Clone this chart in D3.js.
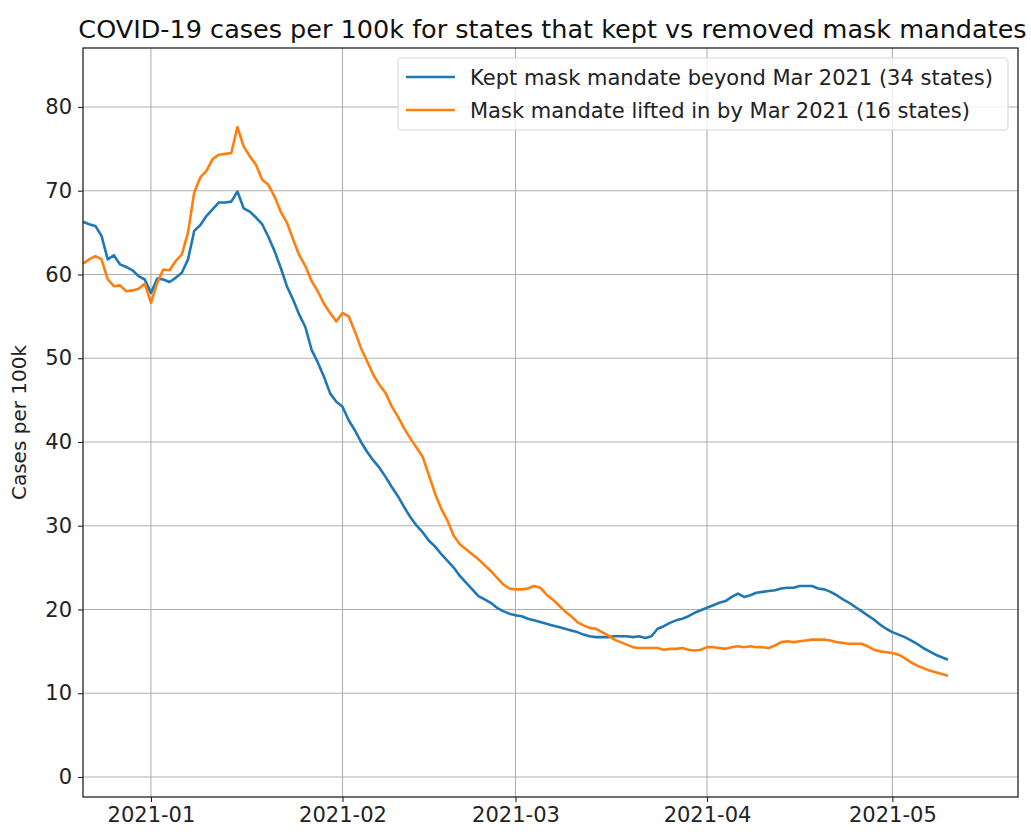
<!DOCTYPE html>
<html><head><meta charset="utf-8">
<script src="https://cdn.jsdelivr.net/npm/d3@7/dist/d3.min.js"></script>
<style>body{margin:0;background:#fff}svg{display:block}text{font-family:"DejaVu Sans",sans-serif}</style>
</head><body><svg id="c" width="1031" height="832"></svg>
<script>
const startDate = "2020-12-21";
const keptMandate = [66.3,66.0,65.8,64.6,61.8,62.3,61.2,60.9,60.5,59.8,59.4,
57.8,59.5,59.4,59.1,59.6,60.2,61.8,65.2,65.9,67.0,67.8,68.6,68.6,68.7,69.9,67.9,67.5,66.8,66.0,64.5,62.8,60.8,58.6,57.0,55.2,53.7,51.0,49.5,47.8,45.8,44.8,
44.2,42.6,41.4,40.0,38.8,37.8,36.9,35.8,34.6,33.5,32.2,31.0,30.0,29.2,28.2,27.5,26.6,25.8,25.0,24.0,23.2,22.4,21.6,21.2,20.8,20.2,19.8,19.5,
19.3,19.2,18.9,18.7,18.5,18.3,18.1,17.9,17.7,17.5,17.3,17.0,16.8,16.7,16.7,16.7,16.8,16.8,16.8,16.7,16.8,16.6,16.8,17.7,18.0,18.4,18.7,18.9,19.2,19.6,19.9,
20.2,20.5,20.8,21.0,21.5,21.9,21.5,21.7,22.0,22.1,22.2,22.3,22.5,22.6,22.6,22.8,22.8,22.8,22.5,22.4,22.1,21.7,21.2,20.8,20.3,19.8,19.3,18.8,18.2,17.7,
17.3,17.0,16.7,16.3,15.9,15.4,15.0,14.6,14.3,14.0];
const liftedMandate = [61.3,61.8,62.2,61.8,59.4,58.6,58.7,58.0,58.1,58.3,58.9,
56.6,59.0,60.6,60.5,61.6,62.4,65.0,69.8,71.6,72.4,73.8,74.3,74.4,74.5,77.6,75.3,74.1,73.1,71.3,70.7,69.3,67.5,66.2,64.2,62.3,61.0,59.2,58.0,56.5,55.4,54.4,
55.4,55.0,53.2,51.2,49.6,48.0,46.8,45.8,44.2,43.0,41.6,40.4,39.3,38.2,36.0,33.8,32.0,30.6,28.8,27.8,27.2,26.6,26.0,25.3,24.6,23.8,23.0,22.5,
22.4,22.4,22.5,22.8,22.6,21.8,21.2,20.5,19.8,19.2,18.5,18.1,17.8,17.7,17.3,16.9,16.4,16.1,15.8,15.5,15.4,15.4,15.4,15.4,15.2,15.3,15.3,15.4,15.2,15.1,15.2,
15.5,15.5,15.4,15.3,15.5,15.6,15.5,15.6,15.5,15.5,15.4,15.7,16.1,16.2,16.1,16.2,16.3,16.4,16.4,16.4,16.3,16.1,16.0,15.9,15.9,15.9,15.6,15.2,15.0,14.9,
14.8,14.6,14.2,13.7,13.3,13.0,12.7,12.5,12.3,12.1];
const seriesNames = ["Kept mask mandate beyond Mar 2021 (34 states)","Mask mandate lifted in by Mar 2021 (16 states)"];
const xTickLabels = ["2021-01","2021-02","2021-03","2021-04","2021-05"];
const yTicks = [0,10,20,30,40,50,60,70,80];
const colors = ["#1f77b4","#ff7f0e"];

const parse = d3.timeParse("%Y-%m-%d");
const t0 = parse(startDate);
const dates = keptMandate.map((_, i) => d3.timeDay.offset(t0, i));
const series = [keptMandate, liftedMandate];

const L = 83, R = 1018, T = 48, B = 797;
const x = d3.scaleTime().domain([parse("2020-12-21"), new Date(2021, 4, 21, 8)]).range([L, R]);
const y = d3.scaleLinear().domain([-2.39, 87.04]).range([B, T]);
const svg = d3.select("#c");

// grid
const xt = xTickLabels.map(s => d3.timeParse("%Y-%m")(s));
svg.append("g").selectAll("line").data(xt).join("line")
  .attr("x1", d => x(d)).attr("x2", d => x(d)).attr("y1", T).attr("y2", B)
  .attr("stroke", "#b0b0b0").attr("stroke-width", 1.1);
svg.append("g").selectAll("line").data(yTicks).join("line")
  .attr("x1", L).attr("x2", R).attr("y1", d => y(d)).attr("y2", d => y(d))
  .attr("stroke", "#b0b0b0").attr("stroke-width", 1.1);

// lines
const line = d3.line().x((d, i) => x(dates[i])).y(d => y(d));
series.forEach((s, k) => {
  svg.append("path").datum(s).attr("d", line).attr("fill", "none")
    .attr("stroke", colors[k]).attr("stroke-width", 2.6).attr("stroke-linejoin", "round");
});

// axes
const xAxis = d3.axisBottom(x).tickValues(xt).tickFormat(d3.timeFormat("%Y-%m")).tickSize(5).tickPadding(5);
const gx = svg.append("g").attr("transform", `translate(0,${B})`).call(xAxis);
const yAxis = d3.axisLeft(y).tickValues(yTicks).tickSize(5).tickPadding(6);
const gy = svg.append("g").attr("transform", `translate(${L},0)`).call(yAxis);
[gx, gy].forEach(g => {
  g.select(".domain").remove();
  g.selectAll("line").attr("stroke", "#222").attr("stroke-width", 1.1);
  g.selectAll("text").attr("font-size", 21).attr("fill", "#222").attr("font-family", "DejaVu Sans");
});
svg.append("rect").attr("x", L).attr("y", T).attr("width", R - L).attr("height", B - T)
  .attr("fill", "none").attr("stroke", "#222").attr("stroke-width", 1.3);

// title & label
svg.append("text").attr("x", (L + R) / 2 + 2).attr("y", 38).attr("text-anchor", "middle")
  .attr("font-size", 25.5).attr("fill", "#111").text("COVID-19 cases per 100k for states that kept vs removed mask mandates");
svg.append("text").attr("transform", `translate(26,${(T + B) / 2}) rotate(-90)`).attr("text-anchor", "middle")
  .attr("font-size", 20).attr("fill", "#222").text("Cases per 100k");

// legend
const lg = svg.append("g");
lg.append("rect").attr("x", 398).attr("y", 58).attr("width", 610).attr("height", 72).attr("rx", 4)
  .attr("fill", "#fff").attr("fill-opacity", 0.8).attr("stroke", "#d8d8d8").attr("stroke-width", 1.1);
seriesNames.forEach((n, k) => {
  const yy = 77 + k * 33;
  lg.append("line").attr("x1", 406).attr("x2", 455).attr("y1", yy).attr("y2", yy)
    .attr("stroke", colors[k]).attr("stroke-width", 2.6);
  lg.append("text").attr("x", 470).attr("y", yy + 7.5).attr("font-size", 21).attr("fill", "#222").text(n);
});
</script></body></html>
